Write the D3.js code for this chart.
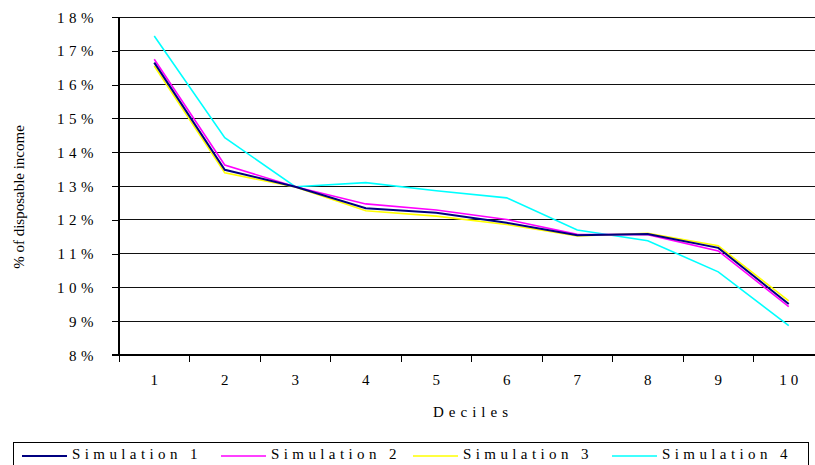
<!DOCTYPE html>
<html>
<head>
<meta charset="utf-8">
<script src="https://cdn.jsdelivr.net/npm/d3@7"></script>
<style>
  html, body { margin: 0; padding: 0; background: #fff; }
</style>
</head>
<body>
<svg id="chart" width="815" height="465" font-family="Liberation Serif"></svg>
<script>
// Share of disposable income by decile, four simulations
const deciles = [1, 2, 3, 4, 5, 6, 7, 8, 9, 10];
const sim1 = [16.65, 13.48, 12.98, 12.34, 12.21, 11.91, 11.54, 11.58, 11.17, 9.51];
const sim2 = [16.75, 13.62, 12.98, 12.47, 12.29, 12.01, 11.57, 11.56, 11.08, 9.43];
const sim3 = [16.55, 13.39, 12.97, 12.27, 12.11, 11.86, 11.52, 11.60, 11.23, 9.60];
const sim4 = [17.44, 14.43, 12.98, 13.10, 12.86, 12.65, 11.70, 11.38, 10.46, 8.87];
const yTicks = [8, 9, 10, 11, 12, 13, 14, 15, 16, 17, 18];
const seriesNames = ["Simulation 1", "Simulation 2", "Simulation 3", "Simulation 4"];
const seriesColors = ["#000080", "#ff00ff", "#ffff00", "#00ffff"];
const seriesValues = [sim1, sim2, sim3, sim4];

const FONT = "Liberation Serif";
const svg = d3.select("#chart");
const plotLeft = 119, plotRight = 824, plotTop = 17, plotBottom = 355;

const x = d3.scaleBand().domain(deciles).range([plotLeft, plotRight]).padding(0);
const y = d3.scaleLinear().domain([8, 18]).range([plotBottom, plotTop]);
const cx = d => x(d) + x.bandwidth() / 2;

// horizontal gridlines
svg.append("g")
  .selectAll("line")
  .data(yTicks.filter(t => t !== 8))
  .join("line")
  .attr("x1", plotLeft).attr("x2", plotRight)
  .attr("y1", d => y(d)).attr("y2", d => y(d))
  .attr("stroke", "#111").attr("stroke-width", 1)
  .attr("shape-rendering", "crispEdges");

// y axis
const yAxis = svg.append("g")
  .attr("transform", `translate(${plotLeft},0)`)
  .call(d3.axisLeft(y).tickValues(yTicks).tickSize(7).tickPadding(14)
    .tickFormat(d => d + "%"))
  .attr("font-family", FONT);
yAxis.select(".domain").attr("stroke", "#000").attr("stroke-width", 2)
  .attr("d", `M0,${plotTop}V${plotBottom}`);
yAxis.selectAll(".tick line").attr("stroke", "#000").attr("shape-rendering", "crispEdges");
yAxis.selectAll(".tick text")
  .attr("dy", "5")
  .attr("font-family", FONT)
  .attr("font-size", 15).attr("letter-spacing", "4.5px");

// x axis with ticks on category boundaries
const xg = svg.append("g").attr("transform", `translate(0,${plotBottom})`);
xg.append("line").attr("x1", plotLeft - 7).attr("x2", plotRight)
  .attr("stroke", "#000").attr("stroke-width", 2);
xg.selectAll("line.tk")
  .data(deciles.concat([11]))
  .join("line").attr("class", "tk")
  .attr("x1", (d, i) => plotLeft + i * x.bandwidth())
  .attr("x2", (d, i) => plotLeft + i * x.bandwidth())
  .attr("y1", 0).attr("y2", 7)
  .attr("stroke", "#000").attr("shape-rendering", "crispEdges");
xg.selectAll("text")
  .data(deciles)
  .join("text")
  .attr("x", d => cx(d) + 2).attr("y", 30)
  .attr("text-anchor", "middle")
  .attr("font-family", FONT)
  .attr("font-size", 15).attr("letter-spacing", "4px")
  .text(d => d);

// axis titles
svg.append("text")
  .attr("transform", `translate(24,197) rotate(-90)`)
  .attr("text-anchor", "middle").attr("font-size", 15)
  .attr("font-family", FONT)
  .text("% of disposable income");
svg.append("text")
  .attr("x", 473).attr("y", 417).attr("text-anchor", "middle")
  .attr("font-family", FONT)
  .attr("font-size", 15).attr("letter-spacing", "5px")
  .text("Deciles");

// series lines, navy drawn last
const line = d3.line().x((d, i) => cx(deciles[i])).y(d => y(d));
const order = [3, 2, 1, 0];
svg.append("g").selectAll("path")
  .data(order)
  .join("path")
  .attr("d", i => line(seriesValues[i]))
  .attr("fill", "none")
  .attr("stroke", i => seriesColors[i])
  .attr("stroke-width", i => i === 0 ? 2 : 1.6)
  .attr("stroke-linejoin", "miter");

// legend
const lg = svg.append("g");
lg.append("rect").attr("x", 13.5).attr("y", 442.5).attr("width", 795).attr("height", 30)
  .attr("fill", "#fff").attr("stroke", "#000").attr("stroke-width", 1);
const legendX = [22, 221, 413, 612];
const item = lg.selectAll("g.item").data(seriesNames).join("g").attr("class", "item")
  .attr("transform", (d, i) => `translate(${legendX[i]},456)`);
item.append("line").attr("x1", 0).attr("x2", 45)
  .attr("stroke", (d, i) => seriesColors[i]).attr("stroke-width", (d, i) => i === 0 ? 2 : 1.5);
item.append("text")
  .attr("x", 50).attr("y", 3)
  .attr("font-family", FONT)
  .attr("font-size", 15).attr("letter-spacing", "4.4px")
  .text(d => d);
</script>
</body>
</html>
